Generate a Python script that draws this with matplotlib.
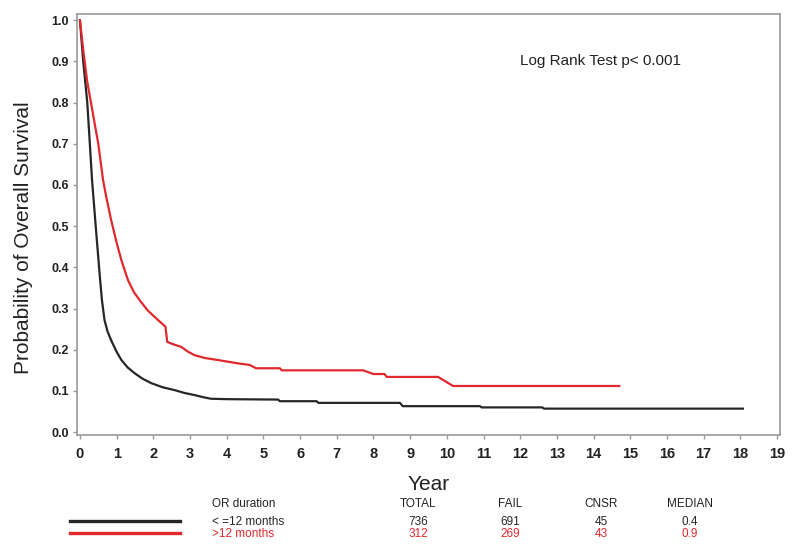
import matplotlib
matplotlib.use("Agg")
import matplotlib.pyplot as plt
from matplotlib.lines import Line2D

plt.rcParams["font.family"] = ["Liberation Sans", "DejaVu Sans"]

# Kaplan-Meier curves (years, survival probability)
short_t = [0, 0.09, 0.2, 0.27, 0.33, 0.43, 0.54, 0.6, 0.67, 0.75, 0.85, 1.0, 1.13,
           1.3, 1.49, 1.7, 1.94, 2.25, 2.58, 2.85, 3.12, 3.35, 3.57, 4.0, 5.4,
           5.45, 6.45, 6.5, 8.72, 8.8, 10.9, 10.95, 12.6, 12.65, 18.07]
short_s = [1.0, 0.9, 0.8, 0.7, 0.612, 0.5, 0.38, 0.32, 0.272, 0.245, 0.223, 0.195,
           0.175, 0.157, 0.143, 0.13, 0.119, 0.109, 0.102, 0.095, 0.09, 0.085,
           0.081, 0.08, 0.079, 0.075, 0.075, 0.071, 0.071, 0.063, 0.063, 0.06,
           0.06, 0.057, 0.057]

long_t = [0, 0.1, 0.2, 0.3, 0.5, 0.63, 0.72, 0.85, 1.0, 1.13, 1.31, 1.47, 1.63,
          1.85, 2.13, 2.33, 2.38, 2.55, 2.76, 2.95, 3.12, 3.4, 3.76, 4.3, 4.63,
          4.8, 5.45, 5.5, 7.72, 8.0, 8.3, 8.36, 9.76, 10.17, 14.7]
long_s = [1.0, 0.92, 0.85, 0.8, 0.7, 0.612, 0.57, 0.515, 0.46, 0.417, 0.369, 0.34,
          0.32, 0.295, 0.272, 0.256, 0.219, 0.213, 0.207, 0.195, 0.187, 0.18,
          0.175, 0.167, 0.163, 0.155, 0.155, 0.15, 0.15, 0.141, 0.141, 0.134,
          0.134, 0.112, 0.112]

groups = ["< =12 months", ">12 months"]
total = [736, 312]
fail = [691, 269]
cnsr = [45, 43]
median = [0.4, 0.9]
colors = ["#262626", "#e0282e"]

x_ticks = list(range(0, 20))
y_ticks = [i / 10 for i in range(0, 11)]

W, H = 800, 559
fig = plt.figure(figsize=(8, 5.59), dpi=100)


def fx(x):
    return x / W


def fy(y):
    return 1 - y / H


ax = fig.add_axes([fx(77), fy(435), (780 - 77) / W, (435 - 14) / H])
ax.plot(short_t, short_s, color=colors[0], lw=1.6)
ax.plot(long_t, long_s, color=colors[1], lw=1.6)

ax.set_xlim(-0.08, 19.08)
ax.set_ylim(-0.007, 1.015)
ax.set_xticks(x_ticks)
ax.set_yticks(y_ticks)
ax.set_yticklabels([f"{v:.1f}" for v in y_ticks])
for s in ax.spines.values():
    s.set_color("#9a9a9a")
    s.set_linewidth(1.2)
ax.tick_params(axis="both", colors="#9a9a9a", length=3, width=1)
ax.tick_params(axis="x", labelsize=10.5, labelcolor="#222222", pad=6)
ax.tick_params(axis="y", labelsize=9, labelcolor="#222222", pad=3)
for lab in ax.get_xticklabels() + ax.get_yticklabels():
    lab.set_fontweight("bold")

ax.set_xlabel("Year", fontsize=15, color="#222222", labelpad=10)
fig.text(fx(24), fy(238), "Probability of Overall Survival", rotation=90,
         fontsize=15, color="#222222", ha="center", va="center")
ax.text(0.630, 0.888, "Log Rank Test p< 0.001", transform=ax.transAxes,
        fontsize=11, color="#222222", ha="left", va="center")

# summary table below the plot
col_x = [418, 510, 601, 690]
row_y = [522, 534]
fs = 8.5
fig.text(fx(212), fy(504), "OR duration", fontsize=fs, color="#222222", va="center")
for cx, head in zip(col_x, ["TOTAL", "FAIL", "CNSR", "MEDIAN"]):
    fig.text(fx(cx), fy(504), head, fontsize=fs, color="#222222", ha="center", va="center")
for i, g in enumerate(groups):
    y = row_y[i]
    fig.add_artist(Line2D([fx(70), fx(180)], [fy(y - 1), fy(y - 1)],
                          color=colors[i], lw=2.4))
    fig.text(fx(212), fy(y), g, fontsize=fs, color=colors[i], va="center")
    vals = [total[i], fail[i], cnsr[i], f"{median[i]:.1f}"]
    for cx, v in zip(col_x, vals):
        fig.text(fx(cx), fy(y), str(v), fontsize=fs, color=colors[i],
                 ha="center", va="center")

fig.savefig("out.png", dpi=100)
